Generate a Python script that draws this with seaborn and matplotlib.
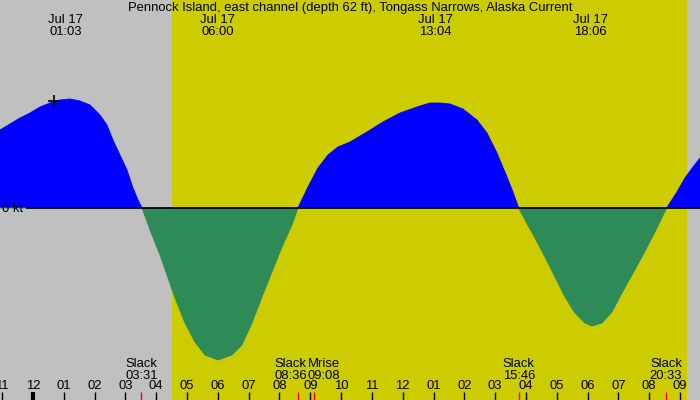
import numpy as np
import pandas as pd
import matplotlib
matplotlib.use("Agg")
import matplotlib.pyplot as plt
import matplotlib.transforms as mtransforms
import seaborn as sns

# hours after midnight Jul 17 (negative = Jul 16) and current speed in kt
horas = [-1.071, -0.747, -0.422, -0.097, 0.227, 0.552, 0.876, 1.201, 1.525, 1.850,
         2.175, 2.402, 2.597, 2.824, 3.051, 3.246, 3.408, 3.540,
         3.797, 4.122, 4.609, 4.933, 5.258, 5.583, 6.005, 6.459, 6.783, 7.108, 7.433,
         7.757, 8.082, 8.406, 8.600,
         8.926, 9.250, 9.575, 9.899, 10.289, 10.841, 11.360, 11.912, 12.464, 12.885,
         13.210, 13.535, 13.957, 14.411, 14.735, 15.060, 15.385, 15.579, 15.767,
         15.969, 16.293, 16.618, 16.943, 17.267, 17.592, 17.916, 18.143, 18.468, 18.792,
         19.117, 19.442, 19.766, 20.188, 20.570,
         20.902, 21.162, 21.422, 21.650]
corrente = [0.78, 0.84, 0.90, 0.95, 1.01, 1.05, 1.08, 1.09, 1.07, 1.03,
            0.93, 0.83, 0.68, 0.53, 0.38, 0.20, 0.08, 0.0,
            -0.22, -0.47, -0.90, -1.15, -1.34, -1.47, -1.52, -1.47, -1.37, -1.15, -0.89,
            -0.64, -0.39, -0.17, 0.0,
            0.21, 0.40, 0.53, 0.61, 0.66, 0.76, 0.86, 0.95, 1.01, 1.05,
            1.05, 1.04, 0.99, 0.88, 0.75, 0.55, 0.31, 0.16, 0.0,
            -0.12, -0.30, -0.49, -0.69, -0.89, -1.05, -1.15, -1.18, -1.15, -1.04,
            -0.85, -0.67, -0.49, -0.24, 0.0,
            0.16, 0.30, 0.41, 0.50]

# high/low current events shown at top
topo_horas = [1.05, 6.0, 13.067, 18.1]
topo_rotulos = ["01:03", "06:00", "13:04", "18:06"]

# events shown at bottom (slack + moonrise)
evento_horas = [3.517, 8.6, 9.133, 15.767, 20.55]
evento_nomes = ["Slack", "Slack", "Mrise", "Slack", "Slack"]
evento_rotulos = ["03:31", "08:36", "09:08", "15:46", "20:33"]
evento_desloc = [0.0, -0.24, 0.30, 0.0, 0.0]  # nudges so labels don't overlap

# daylight and hour ticks
dia_inicio, dia_fim = 4.51, 21.23
horas_ticks = list(range(-1, 22))
rotulos_ticks = ["%02d" % (((h % 12) or 12)) for h in horas_ticks]

titulo = "Pennock Island, east channel (depth 62 ft), Tongass Narrows, Alaska Current"

sns.set_style("white")
plt.rcParams['font.family'] = ['Liberation Sans', 'DejaVu Sans']
plt.rcParams['text.color'] = 'black'
FS = 9.4

df = pd.DataFrame({'hora': horas, 'kt': corrente})
df['pos'] = df['kt'].clip(lower=0)
df['neg'] = df['kt'].clip(upper=0)

fig = plt.figure(figsize=(7, 4), dpi=100)
ax = fig.add_axes([0, 0, 1, 1])
ax.set_facecolor('#c0c0c0')
ax.set_xlim(-1.071, 21.65)
ax.set_ylim(-1.92, 2.08)

ax.axvspan(dia_inicio, dia_fim, color='#cccc00', lw=0, zorder=0)

ax.fill_between(df['hora'], 0, df['kt'], where=df['kt'] >= 0, interpolate=True,
                color='#0000ff', lw=0, zorder=2)
ax.fill_between(df['hora'], 0, df['kt'], where=df['kt'] <= 0, interpolate=True,
                color='#2e8b57', lw=0, zorder=2)
sns.lineplot(data=df, x='hora', y='pos', color='#0000ff', lw=0.6, ax=ax, zorder=3)
sns.lineplot(data=df, x='hora', y='neg', color='#2e8b57', lw=0.6, ax=ax, zorder=3)

ax.hlines(0, -0.227, 21.65, color='black', lw=1.2, zorder=4)
ax.text(-1.0, -0.015, "0 kt", fontsize=FS, va='center', ha='left', zorder=5)

trans = mtransforms.blended_transform_factory(ax.transData, ax.transAxes)

ax.text(10.28, 0.979, titulo, transform=trans, fontsize=FS, ha='center', va='center')
for h, r in zip(topo_horas, topo_rotulos):
    ax.text(h, 0.949, "Jul 17", transform=trans, fontsize=FS, ha='center', va='center')
    ax.text(h, 0.919, r, transform=trans, fontsize=FS, ha='center', va='center')

ax.plot(0.68, 1.07, marker='+', color='black', ms=9, mew=1.2, zorder=6)

for h, n, r, d in zip(evento_horas, evento_nomes, evento_rotulos, evento_desloc):
    ax.text(h + d, 0.091, n, transform=trans, fontsize=FS, ha='center', va='center')
    ax.text(h + d, 0.061, r, transform=trans, fontsize=FS, ha='center', va='center')
    ax.vlines(h, 0.0, 0.02, transform=trans, color='red', lw=1, zorder=5)

for h, r in zip(horas_ticks, rotulos_ticks):
    ax.vlines(h, 0.0, 0.02, transform=trans, color='black', lw=3 if h == 0 else 1, zorder=5)
    ax.text(h, 0.034, r, transform=trans, fontsize=FS, ha='center', va='center')

ax.set_xlabel('')
ax.set_ylabel('')
ax.set_xticks([])
ax.set_yticks([])
for s in ax.spines.values():
    s.set_visible(False)

fig.savefig('out.png', dpi=100)
